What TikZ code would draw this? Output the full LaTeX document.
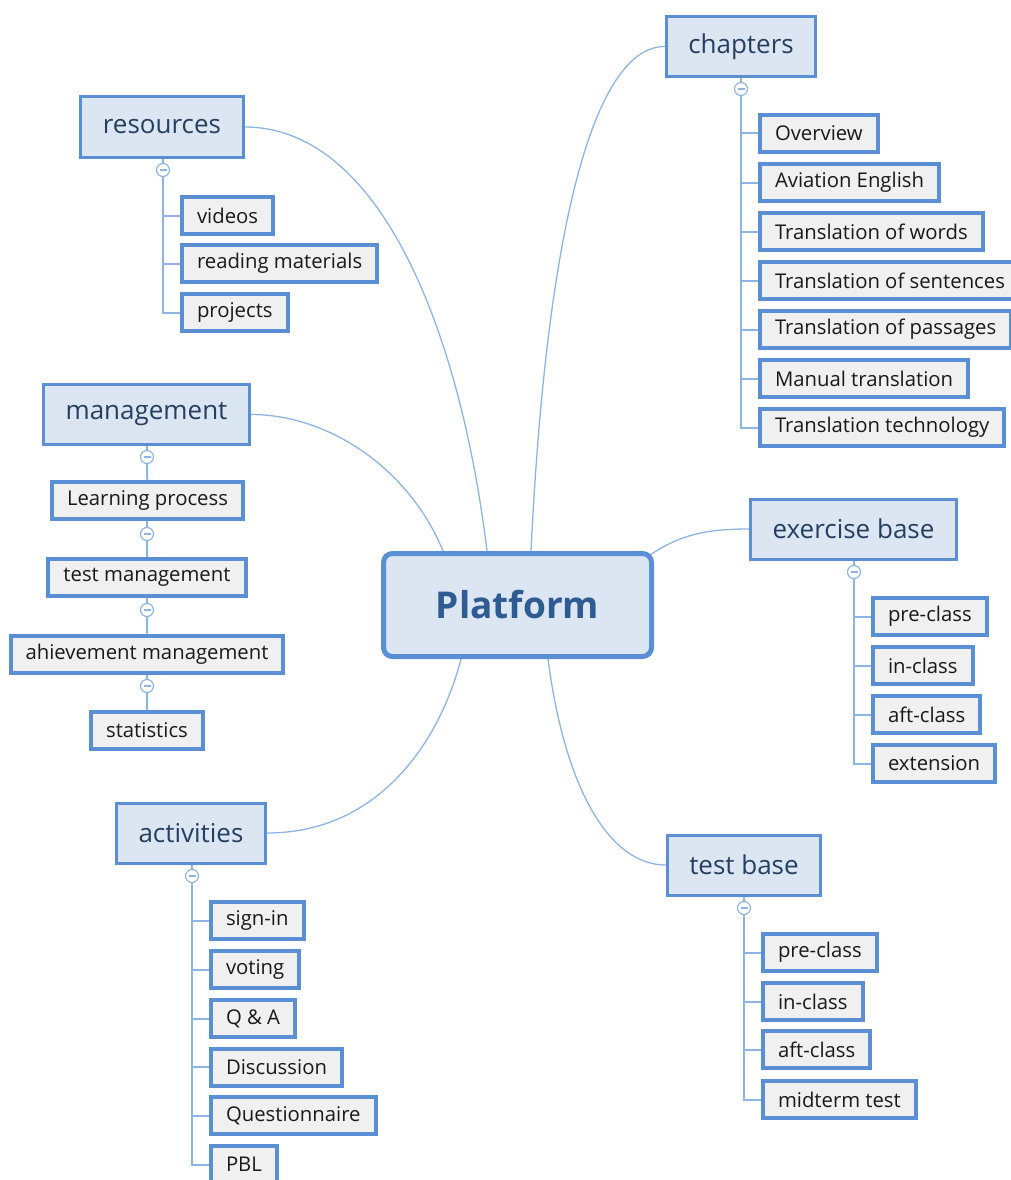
\documentclass[tikz,border=0pt]{standalone}
\usepackage{fontspec}
\setmainfont{Open Sans}
\usetikzlibrary{backgrounds}

\definecolor{boxblue}{HTML}{5B8FD5}
\definecolor{linkblue}{HTML}{8DB4E2}
\definecolor{topicfill}{HTML}{DCE6F2}
\definecolor{leaffill}{HTML}{F0F0F0}
\definecolor{topictext}{HTML}{253F60}
\definecolor{roottext}{HTML}{2F5B93}

\tikzset{
  rootbox/.style={draw=boxblue, line width=5pt, fill=topicfill, rounded corners=9pt,
    minimum width=268pt, minimum height=103pt, text=roottext,
    font=\fontsize{37}{42}\selectfont\bfseries},
  topicbox/.style={draw=boxblue, line width=3pt, fill=topicfill, minimum height=60pt,
    inner xsep=22pt, text=topictext, font=\fontsize{26}{31}\selectfont},
  leafbox/.style={draw=boxblue, line width=4pt, fill=leaffill, minimum height=37pt,
    inner xsep=15pt, anchor=west, text=black!90, font=\fontsize{20.3}{24}\selectfont},
  fold/.style={circle, draw=linkblue, fill=white, line width=1.2pt, minimum size=13pt, inner sep=0pt,
    path picture={\draw[linkblue, line width=1.2pt]
      ([xshift=-3.5pt]path picture bounding box.center) -- ([xshift=3.5pt]path picture bounding box.center);}},
  link/.style={linkblue, line width=1.3pt},
  stem/.style={linkblue, line width=2pt},
}

\begin{document}
\begin{tikzpicture}[x=1pt,y=-1pt]

\useasboundingbox (0,0) rectangle (1011,1180);

% centre and main topics
\node[rootbox] (root) at (517.5,605) {Platform};
\node[topicbox] (chap) at (741,46.5) {chapters};
\node[topicbox] (res) at (162,127) {resources};
\node[topicbox] (mgmt) at (146.5,414.5) {management};
\node[topicbox] (exer) at (853.5,529) {exercise base};
\node[topicbox] (act) at (191,833) {activities};
\node[topicbox] (test) at (744,865) {test base};

% fold markers
\node[fold] (resf) at (163,170) {};
\node[fold] (chapf) at (741,89) {};
\node[fold] (mgmtf) at (147,457) {};
\node[fold] (lpf) at (147,534) {};
\node[fold] (tmf) at (147,610) {};
\node[fold] (amf) at (147,686) {};
\node[fold] (exerf) at (854,572) {};
\node[fold] (actf) at (192,876) {};
\node[fold] (testf) at (744,908) {};

% resources
\node[leafbox] (rvid) at (180,215.5) {videos};
\node[leafbox] (rread) at (180,263.5) {reading materials};
\node[leafbox] (rproj) at (180,312.5) {projects};

% chapters
\node[leafbox] (cover) at (758,133.5) {Overview};
\node[leafbox] (caviat) at (758,182.5) {Aviation English};
\node[leafbox] (cwords) at (758,231.5) {Translation of words};
\node[leafbox] (csent) at (758,280.5) {Translation of sentences};
\node[leafbox] (cpass) at (758,329.5) {Translation of passages};
\node[leafbox] (cmanual) at (758,378.5) {Manual translation};
\node[leafbox] (ctech) at (758,427.5) {Translation technology};

% management
\node[leafbox,anchor=center] (mlearn) at (147.5,500.5) {Learning process};
\node[leafbox,anchor=center] (mtest) at (147,577.5) {test management};
\node[leafbox,anchor=center] (machv) at (147,654) {ahievement management};
\node[leafbox,anchor=center] (mstat) at (147,730.5) {statistics};

% exercise base
\node[leafbox] (epre) at (871,616.5) {pre-class};
\node[leafbox] (ein) at (871,665.5) {in-class};
\node[leafbox] (eaft) at (871,714.5) {aft-class};
\node[leafbox] (eext) at (871,763.5) {extension};

% activities
\node[leafbox] (asign) at (209,920.5) {sign-in};
\node[leafbox] (avote) at (209,969.5) {voting};
\node[leafbox] (aqa) at (209,1018.5) {Q \& A};
\node[leafbox] (adisc) at (209,1067) {Discussion};
\node[leafbox] (aquest) at (209,1115.5) {Questionnaire};
\node[leafbox] (apbl) at (209,1164.5) {PBL};

% test base
\node[leafbox] (tpre) at (761,952.5) {pre-class};
\node[leafbox] (tin) at (761,1001.5) {in-class};
\node[leafbox] (taft) at (761,1049.5) {aft-class};
\node[leafbox] (tmid) at (761,1099.5) {midterm test};

\begin{scope}[on background layer]
  % curved links from the centre
  \draw[link] ([xshift=13.5pt]root.north) .. controls (548,200) and (600,46.5) .. (chap.west);
  \draw[link] ([xshift=-30.5pt]root.north) .. controls (460,330) and (380,127) .. (res.east);
  \draw[link] ([xshift=-74.5pt]root.north) .. controls (410,470) and (330,414.5) .. (mgmt.east);
  \draw[link] ([shift={(-4,4)}]root.north east) .. controls (680,535) and (705,529) .. (exer.west);
  \draw[link] ([xshift=-56.5pt]root.south) .. controls (440,740) and (380,833) .. (act.east);
  \draw[link] ([xshift=30.5pt]root.south) .. controls (565,790) and (610,865) .. (test.west);

  % stems
  \draw[stem] (res) -- (resf);
  \foreach \n in {rvid,rread,rproj} \draw[stem] (resf) |- (\n.west);
  \draw[stem] (chap) -- (chapf);
  \foreach \n in {cover,caviat,cwords,csent,cpass,cmanual,ctech} \draw[stem] (chapf) |- (\n.west);
  \draw[stem] (mgmt) -- (mgmtf) -- (mlearn) -- (lpf) -- (mtest) -- (tmf) -- (machv) -- (amf) -- (mstat);
  \draw[stem] (exer) -- (exerf);
  \foreach \n in {epre,ein,eaft,eext} \draw[stem] (exerf) |- (\n.west);
  \draw[stem] (act) -- (actf);
  \foreach \n in {asign,avote,aqa,adisc,aquest,apbl} \draw[stem] (actf) |- (\n.west);
  \draw[stem] (test) -- (testf);
  \foreach \n in {tpre,tin,taft,tmid} \draw[stem] (testf) |- (\n.west);
\end{scope}

\end{tikzpicture}
\end{document}
